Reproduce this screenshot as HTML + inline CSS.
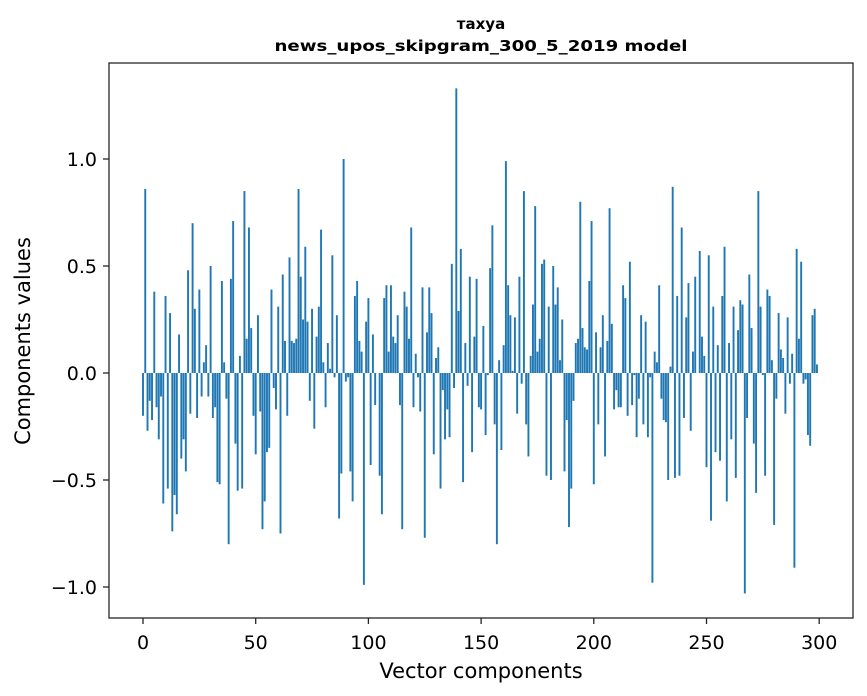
<!DOCTYPE html>
<html><head><meta charset="utf-8"><style>
html,body{margin:0;padding:0;background:#fff;}
svg{display:block;}
</style></head><body>
<svg id="chart" width="867" height="696" xmlns="http://www.w3.org/2000/svg" font-family="'DejaVu Sans', sans-serif">
<rect x="0" y="0" width="867" height="696" fill="#fff"/>
<text x="481" y="29" text-anchor="middle" font-family="'DejaVu Sans', sans-serif" font-weight="bold" font-size="15">тахуа</text>
<text x="481" y="51" text-anchor="middle" font-family="'DejaVu Sans', sans-serif" font-weight="bold" font-size="15" textLength="413" lengthAdjust="spacingAndGlyphs">news_upos_skipgram_300_5_2019 model</text>
<g id="bars"></g>
<g id="xaxis"></g>
<g id="yaxis"></g>
<rect x="109" y="63" width="744" height="555" fill="none" stroke="#262626" stroke-width="1.3"/>
<text x="481" y="678" text-anchor="middle" font-size="21">Vector components</text>
<text x="0" y="0" text-anchor="middle" font-size="21" transform="translate(30,341) rotate(-90)">Components values</text>
</svg>
<script>
const values = [
-0.20,0.86,-0.27,-0.13,-0.22,0.38,-0.16,-0.31,-0.11,-0.61,
0.36,-0.54,0.28,-0.74,-0.57,-0.66,0.18,-0.40,-0.31,-0.46,
0.48,-0.19,0.70,0.30,-0.21,0.39,-0.11,0.05,0.13,-0.11,
0.50,-0.21,-0.16,-0.51,-0.52,0.43,0.05,-0.12,-0.80,0.44,
0.71,-0.33,-0.55,0.08,-0.54,0.85,0.16,0.68,0.21,-0.20,
-0.38,0.27,-0.18,-0.73,-0.60,-0.37,-0.35,0.39,-0.07,-0.17,
0.31,-0.75,0.46,0.15,-0.20,0.54,0.15,0.14,0.16,0.86,
0.45,0.25,0.59,0.24,-0.13,0.30,-0.26,0.17,0.31,0.67,
0.05,-0.16,0.14,0.02,0.55,-0.02,0.27,-0.68,-0.47,1.00,
-0.04,-0.02,-0.46,-0.60,0.36,0.43,0.15,0.10,-0.99,0.24,
0.35,-0.43,0.18,-0.15,0.00,-0.48,-0.66,0.35,0.41,0.10,
0.41,0.17,0.14,0.27,-0.15,-0.73,0.38,0.31,0.16,0.68,
-0.16,0.09,-0.02,-0.18,0.40,-0.77,0.19,0.40,0.28,-0.38,
0.07,0.12,-0.54,-0.08,-0.31,-0.17,-0.30,0.51,-0.07,1.33,
0.29,0.58,-0.51,0.14,-0.06,0.45,-0.37,0.17,0.44,-0.16,
-0.17,0.22,-0.29,-0.01,0.49,0.69,-0.24,-0.80,0.06,-0.36,
0.13,0.99,0.41,0.27,0.01,0.26,-0.19,0.45,-0.05,0.85,
-0.24,-0.39,0.08,0.32,0.78,0.10,0.16,0.51,0.53,-0.48,
0.31,-0.50,0.50,0.32,0.40,0.06,0.25,-0.46,-0.22,-0.72,
-0.54,-0.13,0.14,0.16,0.80,0.21,0.12,0.11,0.43,0.71,
-0.52,0.19,-0.24,0.12,0.27,-0.39,0.15,0.77,0.23,-0.17,
-0.08,-0.16,-0.16,0.41,0.35,-0.20,0.52,-0.15,-0.01,-0.30,
-0.12,0.27,-0.24,0.24,-0.30,-0.02,-0.98,0.10,0.05,0.41,
-0.12,-0.22,-0.23,-0.50,0.03,0.87,-0.49,0.36,-0.48,0.68,
-0.21,0.26,0.42,-0.27,0.10,0.45,0.00,0.57,0.17,0.08,
-0.44,0.55,-0.69,0.31,-0.37,0.13,-0.41,0.36,0.59,-0.60,
0.14,-0.31,0.31,-0.49,0.20,0.34,0.32,-1.03,-0.21,0.46,
0.21,-0.33,-0.56,0.85,0.31,-0.01,-0.48,0.39,0.36,0.06,
-0.71,-0.12,0.28,0.11,0.07,-0.19,0.26,-0.05,0.09,-0.91,
0.58,0.16,0.52,-0.05,-0.03,-0.29,-0.34,0.27,0.30,0.04
];
const xTicks = [0,50,100,150,200,250,300];
const yTicks = [-1.0,-0.5,0.0,0.5,1.0];
const yTickLabels = ["\u22121.0","\u22120.5","0.0","0.5","1.0"];

const NS = "http://www.w3.org/2000/svg";
const X0 = 143, XS = 2.254;
const Y0 = 373, YS = 214;
function xScale(v){ return X0 + v*XS; }
function yScale(v){ return Y0 - v*YS; }

const barsG = document.getElementById('bars');
values.forEach((v,i)=>{
  const r = document.createElementNS(NS,'rect');
  const bw = 0.85*XS;
  const y1 = yScale(Math.max(v,0)), y2 = yScale(Math.min(v,0));
  r.setAttribute('x', xScale(i)-bw/2);
  r.setAttribute('y', y1);
  r.setAttribute('width', bw);
  r.setAttribute('height', Math.max(y2-y1,0));
  r.setAttribute('fill','#1f77b4');
  
  
  barsG.appendChild(r);
});

const xg = document.getElementById('xaxis');
xTicks.forEach(t=>{
  const x = xScale(t);
  const l = document.createElementNS(NS,'line');
  l.setAttribute('x1',x); l.setAttribute('x2',x);
  l.setAttribute('y1',618); l.setAttribute('y2',624);
  l.setAttribute('stroke','#262626'); l.setAttribute('stroke-width','1.3');
  
  
  xg.appendChild(l);
  const tx = document.createElementNS(NS,'text');
  tx.setAttribute('x',x); tx.setAttribute('y',649);
  tx.setAttribute('text-anchor','middle'); tx.setAttribute('font-size','19');
  tx.textContent = String(t);
  
  
  xg.appendChild(tx);
});

const yg = document.getElementById('yaxis');
yTicks.forEach((t,i)=>{
  const y = yScale(t);
  const l = document.createElementNS(NS,'line');
  l.setAttribute('x1',103); l.setAttribute('x2',109);
  l.setAttribute('y1',y); l.setAttribute('y2',y);
  l.setAttribute('stroke','#262626'); l.setAttribute('stroke-width','1.3');
  
  
  yg.appendChild(l);
  const tx = document.createElementNS(NS,'text');
  tx.setAttribute('x',97); tx.setAttribute('y',y+7);
  tx.setAttribute('text-anchor','end'); tx.setAttribute('font-size','19');
  tx.textContent = yTickLabels[i];
  
  
  yg.appendChild(tx);
});
</script>
</body></html>
